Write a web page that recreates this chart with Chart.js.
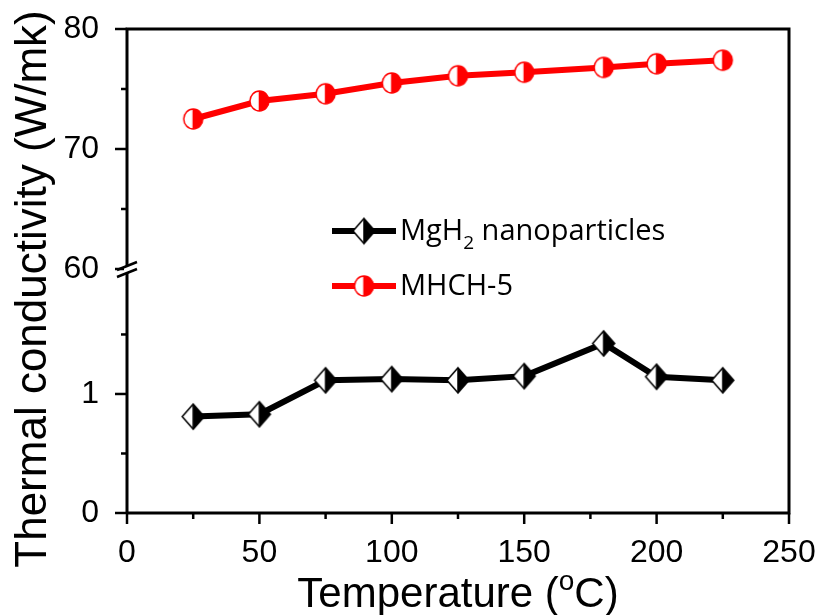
<!DOCTYPE html>
<html><head><meta charset="utf-8">
<script src="https://cdn.jsdelivr.net/npm/chart.js@4/dist/chart.umd.min.js"></script>
<style>html,body{margin:0;padding:0;background:#fff;}#wrap{width:824px;height:615px;}</style>
</head><body><div id="wrap"><canvas id="c" width="824" height="615"></canvas></div>
<script>
// ---- data ----
const temperatures = [25, 50, 75, 100, 125, 150, 180, 200, 225];
const mgh2Values = [0.81, 0.83, 1.115, 1.125, 1.115, 1.15, 1.425, 1.145, 1.115];
const mhchValues = [72.5, 74.0, 74.6, 75.5, 76.1, 76.4, 76.8, 77.1, 77.4];
const seriesNames = ['MgH2 nanoparticles', 'MHCH-5'];
const xTickValues = [0, 25, 50, 75, 100, 125, 150, 175, 200, 225, 250];
const xTickLabels = [0, 50, 100, 150, 200, 250];
const upperTickValues = [60, 65, 70, 75, 80];
const upperTickLabels = [60, 70, 80];
const lowerTickValues = [0, 0.5, 1, 1.5];
const lowerTickLabels = [0, 1];
const axisTitleX = ['Temperature (', 'o', 'C)'];
const axisTitleY = 'Thermal conductivity (W/mk)';

// ---- markers ----
function makeDiamond(w, h, color) {
  const c = document.createElement('canvas');
  c.width = w + 4; c.height = h + 4;
  const g = c.getContext('2d');
  const cx = c.width / 2, cy = c.height / 2;
  g.beginPath(); g.moveTo(cx, cy - h / 2); g.lineTo(cx, cy + h / 2); g.lineTo(cx - w / 2, cy); g.closePath();
  g.fillStyle = '#fff'; g.fill();
  g.beginPath(); g.moveTo(cx, cy - h / 2); g.lineTo(cx + w / 2, cy); g.lineTo(cx, cy + h / 2); g.closePath();
  g.fillStyle = color; g.fill();
  g.beginPath(); g.moveTo(cx, cy - h / 2); g.lineTo(cx + w / 2, cy); g.lineTo(cx, cy + h / 2); g.lineTo(cx - w / 2, cy); g.closePath();
  g.lineWidth = 1.5; g.strokeStyle = color; g.stroke();
  g.beginPath(); g.moveTo(cx, cy - h / 2); g.lineTo(cx, cy + h / 2); g.stroke();
  return c;
}
function makeHalfCircle(rx, ry, color) {
  const c = document.createElement('canvas');
  c.width = Math.ceil(rx * 2 + 4); c.height = Math.ceil(ry * 2 + 4);
  const g = c.getContext('2d');
  const cx = c.width / 2, cy = c.height / 2;
  g.beginPath(); g.ellipse(cx, cy, rx, ry, 0, Math.PI / 2, Math.PI * 1.5); g.closePath();
  g.fillStyle = '#fff'; g.fill();
  g.beginPath(); g.ellipse(cx, cy, rx, ry, 0, -Math.PI / 2, Math.PI / 2); g.closePath();
  g.fillStyle = color; g.fill();
  g.beginPath(); g.ellipse(cx, cy, rx, ry, 0, 0, Math.PI * 2);
  g.lineWidth = 1.5; g.strokeStyle = color; g.stroke();
  g.beginPath(); g.moveTo(cx, cy - ry); g.lineTo(cx, cy + ry); g.stroke();
  return c;
}
const BLACK = '#000000', RED = '#ff0000';
const diamond = makeDiamond(22, 25, BLACK);
const halfCircle = makeHalfCircle(9.5, 10, RED);

const AXIS_FONT = '"Liberation Sans", Arial, sans-serif';
const LEGEND_FONT = '"Open Sans", Lato, sans-serif';

function setTicks(values) {
  return s => { s.ticks = values.map(v => ({ value: v })); };
}
function labelCb(labels) {
  return v => (labels.indexOf(v) >= 0 ? String(v) : '');
}
function fitY(s) { s.width = 127; s.paddingTop = 0; s.paddingBottom = 0; }
function fitX(s) { s.height = 102; s.paddingLeft = 0; s.paddingRight = 0; }

const decorPlugin = {
  id: 'decor',
  afterDraw(chart) {
    const ctx = chart.ctx;
    const a = chart.chartArea;
    const sx = chart.scales.x, sHi = chart.scales.yHigh, sLo = chart.scales.yLow;
    ctx.save();
    ctx.strokeStyle = '#000';
    ctx.lineCap = 'butt';
    // frame
    ctx.lineWidth = 3;
    ctx.beginPath();
    ctx.moveTo(a.left, a.bottom); ctx.lineTo(a.right, a.bottom);
    ctx.lineTo(a.right, a.top); ctx.lineTo(a.left, a.top); ctx.lineTo(a.left, a.bottom);
    ctx.stroke();
    // ticks
    ctx.lineWidth = 2.5;
    sx.ticks.forEach(t => {
      const px = sx.getPixelForValue(t.value);
      const len = xTickLabels.indexOf(t.value) >= 0 ? 11 : 6;
      ctx.beginPath(); ctx.moveTo(px, a.bottom); ctx.lineTo(px, a.bottom + len); ctx.stroke();
    });
    [[sHi, upperTickLabels], [sLo, lowerTickLabels]].forEach(([s, labs]) => {
      s.ticks.forEach(t => {
        const py = s.getPixelForValue(t.value);
        const len = labs.indexOf(t.value) >= 0 ? 12 : 6;
        ctx.beginPath(); ctx.moveTo(a.left, py); ctx.lineTo(a.left - len, py); ctx.stroke();
      });
    });
    // axis break
    const by = sHi.bottom;
    ctx.fillStyle = '#fff';
    ctx.fillRect(a.left - 3, by - 3, 6, 7);
    ctx.lineWidth = 2.5;
    ctx.beginPath();
    ctx.moveTo(a.left - 10, by + 1); ctx.lineTo(a.left + 10, by - 7);
    ctx.moveTo(a.left - 10, by + 8); ctx.lineTo(a.left + 10, by);
    ctx.stroke();
    // axis titles
    ctx.fillStyle = '#000';
    ctx.font = '44px ' + AXIS_FONT;
    ctx.textBaseline = 'alphabetic';
    ctx.save();
    ctx.translate(46, 289);
    ctx.rotate(-Math.PI / 2);
    ctx.textAlign = 'center';
    ctx.fillText(axisTitleY, 0, 0);
    ctx.restore();
    const big = '42px ' + AXIS_FONT, small = '28px ' + AXIS_FONT;
    ctx.font = big; const w1 = ctx.measureText(axisTitleX[0]).width; const w3 = ctx.measureText(axisTitleX[2]).width;
    ctx.font = small; const w2 = ctx.measureText(axisTitleX[1]).width;
    const cxT = (a.left + a.right) / 2;
    let tx = cxT - (w1 + w2 + w3) / 2;
    const base = 607;
    ctx.textAlign = 'left';
    ctx.font = big; ctx.fillText(axisTitleX[0], tx, base); tx += w1;
    ctx.font = small; ctx.fillText(axisTitleX[1], tx, base - 17); tx += w2;
    ctx.font = big; ctx.fillText(axisTitleX[2], tx, base);
    // legend
    const fs = 29, sub = 19;
    const items = [
      { y: 231, color: BLACK, img: diamond, parts: [['MgH', 0, fs], ['2', 9, sub], [' nanoparticles', 0, fs]] },
      { y: 286, color: RED, img: halfCircle, parts: [['MHCH-5', 0, fs]] }
    ];
    items.forEach(it => {
      ctx.strokeStyle = it.color; ctx.lineWidth = 6;
      ctx.beginPath(); ctx.moveTo(332, it.y); ctx.lineTo(396, it.y); ctx.stroke();
      ctx.drawImage(it.img, 364 - it.img.width / 2, it.y - it.img.height / 2);
      let x = 400;
      ctx.fillStyle = '#000';
      it.parts.forEach(([txt, dy, size]) => {
        ctx.font = size + 'px ' + LEGEND_FONT;
        ctx.fillText(txt, x, it.y + 9 + dy);
        x += ctx.measureText(txt).width;
      });
    });
    ctx.restore();
  }
};

const tickFont = { family: AXIS_FONT, size: 32 };
new Chart(document.getElementById('c'), {
  type: 'line',
  data: {
    datasets: [
      {
        label: seriesNames[0],
        data: temperatures.map((t, i) => ({ x: t, y: mgh2Values[i] })),
        yAxisID: 'yLow', borderColor: BLACK, borderWidth: 6, tension: 0,
        pointStyle: diamond, pointRadius: 12, pointHoverRadius: 12
      },
      {
        label: seriesNames[1],
        data: temperatures.map((t, i) => ({ x: t, y: mhchValues[i] })),
        yAxisID: 'yHigh', borderColor: RED, borderWidth: 6, tension: 0,
        pointStyle: halfCircle, pointRadius: 11, pointHoverRadius: 11
      }
    ]
  },
  options: {
    responsive: false, animation: false, devicePixelRatio: 1,
    layout: { padding: { top: 29, right: 35, left: 0, bottom: 0 } },
    plugins: { legend: { display: false }, tooltip: { enabled: false } },
    scales: {
      x: {
        type: 'linear', min: 0, max: 250,
        grid: { display: false }, border: { display: false },
        afterBuildTicks: setTicks(xTickValues),
        afterFit: fitX,
        ticks: { font: tickFont, color: '#000', padding: 13, autoSkip: false, maxRotation: 0, callback: labelCb(xTickLabels) }
      },
      yLow: {
        type: 'linear', position: 'left', stack: 'yb', stackWeight: 244, min: 0, max: 2.05,
        grid: { display: false }, border: { display: false },
        afterBuildTicks: setTicks(lowerTickValues),
        afterFit: fitY,
        ticks: { font: tickFont, color: '#000', padding: 20, autoSkip: false, callback: labelCb(lowerTickLabels) }
      },
      yHigh: {
        type: 'linear', position: 'left', stack: 'yb', stackWeight: 240, min: 60, max: 80,
        grid: { display: false }, border: { display: false },
        afterBuildTicks: setTicks(upperTickValues),
        afterFit: fitY,
        ticks: { font: tickFont, color: '#000', padding: 20, autoSkip: false, callback: labelCb(upperTickLabels) }
      }
    }
  },
  plugins: [decorPlugin]
});
</script>
</body></html>
